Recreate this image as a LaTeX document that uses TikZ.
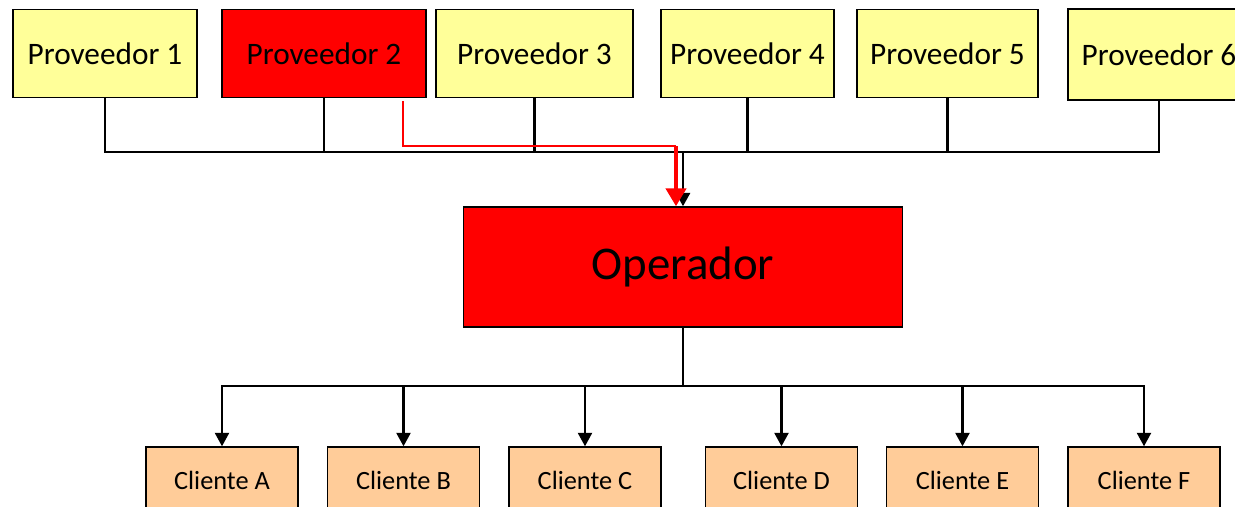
\documentclass[tikz,border=0pt]{standalone}
\usepackage{fontspec}
\setmainfont{Carlito}
\usetikzlibrary{arrows.meta}
\usepackage{xcolor}
\definecolor{provyellow}{HTML}{FFFF99}
\definecolor{clientorange}{HTML}{FFCC99}

\begin{document}
\begin{tikzpicture}[x=0.02cm, y=-0.02cm,
                >={Triangle[width=0.28cm,length=0.27cm]},
                prov/.style={rectangle, draw=black, line width=0.8pt, fill=provyellow, inner sep=0pt,
                             minimum height=1.76cm, font=\fontsize{17.8}{20}\selectfont},
                oper/.style={rectangle, draw=black, line width=0.8pt, fill=red, inner sep=0pt,
                             minimum width=8.77cm, minimum height=2.4cm, font=\fontsize{26.7}{30}\selectfont},
                client/.style={rectangle, draw=black, line width=0.8pt, fill=clientorange, inner sep=0pt,
                               minimum width=3.04cm, minimum height=1.32cm, font=\fontsize{15}{18}\selectfont},
                link/.style={draw=black, line width=1.2pt}
                ]
    \useasboundingbox (0,0) rectangle (1235,507);

    % Nodes
    \node[prov, minimum width=3.68cm] (prov1) at (105,53.5) {Proveedor 1};
    \node[prov, minimum width=4.08cm, fill=red] (prov2) at (324,53.5) {Proveedor 2};
    \node[prov, minimum width=3.94cm] (prov3) at (534.5,53.5) {Proveedor 3};
    \node[prov, minimum width=3.46cm] (prov4) at (747.5,53.5) {Proveedor 4};
    \node[prov, minimum width=3.62cm] (prov5) at (947.5,53.5) {Proveedor 5};
    \node[prov, minimum width=3.64cm, minimum height=1.82cm] (prov6) at (1159,54.5) {Proveedor 6};
    \node[oper] (op) at (683,267) {Operador};
    \node[client] (cliA) at (222,480) {Cliente A};
    \node[client] (cliB) at (403.5,480) {Cliente B};
    \node[client] (cliC) at (585,480) {Cliente C};
    \node[client] (cliD) at (781.5,480) {Cliente D};
    \node[client] (cliE) at (962.5,480) {Cliente E};
    \node[client] (cliF) at (1144,480) {Cliente F};

    \coordinate (topbus) at (683,152);
    \coordinate (botbus) at (683,386);
    \coordinate (redstart) at (403,101);
    \coordinate (redbend) at (676,146);

    % Paths
    \draw[link] (prov1.south) |- (topbus) -| (prov6.south);
    \foreach \p in {prov2,prov3,prov4,prov5}
        \draw[link] (\p.south) -- (\p.south |- topbus);
    \draw[link, line width=1.7pt, ->] (topbus) -- (op.north);
    \draw[red, line width=0.9pt] (redstart) |- (redbend);
    \draw[red, line width=2.5pt, -{Triangle[width=0.4cm,length=0.36cm]}] (redbend) -- (redbend |- op.north);

    \draw[link, line width=1.6pt] (op.south) -- (botbus);
    \foreach \c in {cliA,cliB,cliC,cliD,cliE,cliF}
        \draw[link, line width=1.4pt, ->] (botbus) -| (\c.north);
\end{tikzpicture}
\end{document}
